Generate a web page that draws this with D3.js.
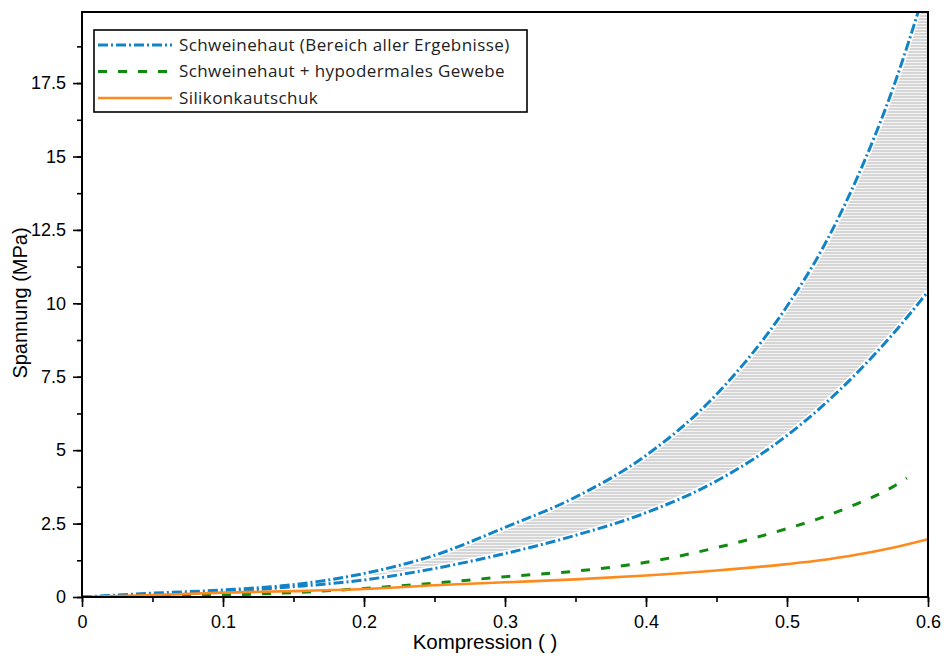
<!DOCTYPE html>
<html>
<head>
<meta charset="utf-8">
<script src="https://cdn.jsdelivr.net/npm/d3@7"></script>
<style>
  body { margin: 0; background: #fff; }
  .axis text { font-family: "Liberation Sans", Arial, sans-serif; font-size: 18px; fill: #000; }
  .axis path, .axis line { stroke: #000; stroke-width: 1.6px; }
  .legend text { font-family: "Open Sans", sans-serif; font-size: 17px; letter-spacing: 0.4px; fill: #222; }
</style>
</head>
<body>
<div id="chart-area"></div>
<script>

// Daten
var kompression = [0, 0.05, 0.1, 0.15, 0.2, 0.25, 0.3, 0.35, 0.4, 0.45, 0.5, 0.525, 0.55, 0.575, 0.6];
var hautMax = [0, 0.13, 0.24, 0.42, 0.8, 1.42, 2.37, 3.4, 4.82, 6.9, 9.9, 11.85, 14.3, 17.3, 21.0];
var hautMin = [0, 0.08, 0.18, 0.35, 0.58, 0.97, 1.48, 2.1, 2.87, 3.95, 5.5, 6.5, 7.65, 8.95, 10.4];

var kompressionGewebe = [0, 0.05, 0.1, 0.15, 0.2, 0.25, 0.3, 0.35, 0.4, 0.45, 0.5, 0.525, 0.55, 0.575, 0.585];
var hautGewebe = [0, 0.03, 0.07, 0.15, 0.29, 0.47, 0.69, 0.88, 1.18, 1.68, 2.33, 2.71, 3.18, 3.75, 4.05];

var silikon = [0, 0.07, 0.15, 0.2, 0.27, 0.4, 0.5, 0.6, 0.73, 0.9, 1.12, 1.26, 1.45, 1.68, 1.97];

var xTicks = [0, 0.1, 0.2, 0.3, 0.4, 0.5, 0.6];
var yTicks = [0, 2.5, 5, 7.5, 10, 12.5, 15, 17.5];

var legendLabels = ["Schweinehaut (Bereich aller Ergebnisse)", "Schweinehaut + hypodermales Gewebe", "Silikonkautschuk"];
var colors = ["#1283c6", "#118a11", "#ff8a1c"];
var dashes = ["10,3,2,3", "9,11", null];

var margin = {top: 12, right: 19, bottom: 59, left: 82},
    width = 947 - margin.left - margin.right,
    height = 656 - margin.top - margin.bottom;

var svg = d3.select("#chart-area").append("svg")
    .attr("width", 947)
    .attr("height", 656);

var defs = svg.append("defs");

// Schraffur fuer den Bereich
var pattern = defs.append("pattern")
    .attr("id", "hatch")
    .attr("patternUnits", "userSpaceOnUse")
    .attr("width", 6)
    .attr("height", 3);
pattern.append("rect").attr("width", 6).attr("height", 3).attr("fill", "#f4f4f4");
pattern.append("rect").attr("width", 6).attr("height", 2).attr("fill", "#d6d6d6");

defs.append("clipPath").attr("id", "clip")
  .append("rect")
    .attr("width", width)
    .attr("height", height);

var g = svg.append("g")
    .attr("transform", "translate(" + margin.left + "," + margin.top + ")");

var x = d3.scaleLinear()
    .domain([0, 0.6])
    .range([0, width]);

var y = d3.scaleLinear()
    .domain([0, 19.92])
    .range([height, 0]);

// Achsen
g.append("g")
    .attr("class", "axis")
    .attr("transform", "translate(0," + height + ")")
    .call(d3.axisBottom(x).tickValues(d3.range(0, 0.61, 0.05)).tickSize(5).tickFormat(""))
    .call(function(s) { s.select(".domain").remove(); });

g.append("g")
    .attr("class", "axis")
    .attr("transform", "translate(0," + height + ")")
    .call(d3.axisBottom(x).tickValues(xTicks).tickSize(10).tickPadding(8).tickFormat(d3.format("")))
    .call(function(s) { s.select(".domain").remove(); });

g.append("g")
    .attr("class", "axis")
    .call(d3.axisLeft(y).tickValues(d3.range(0, 19.9, 1.25)).tickSize(5).tickFormat(""))
    .call(function(s) { s.select(".domain").remove(); });

g.append("g")
    .attr("class", "axis")
    .call(d3.axisLeft(y).tickValues(yTicks).tickSize(9).tickPadding(7).tickFormat(d3.format("")))
    .call(function(s) { s.select(".domain").remove(); });

// Bereich
var area = d3.area()
    .x(function(d, i) { return x(kompression[i]); })
    .y0(function(d, i) { return y(hautMin[i]); })
    .y1(function(d, i) { return y(d); })
    .curve(d3.curveMonotoneX);

var plot = g.append("g").attr("clip-path", "url(#clip)");

plot.append("path")
    .datum(hautMax)
    .attr("fill", "url(#hatch)")
    .attr("d", area);

var line = d3.line()
    .x(function(d) { return x(d[0]); })
    .y(function(d) { return y(d[1]); })
    .curve(d3.curveMonotoneX);

var series = [
  {data: d3.zip(kompression, hautMax), c: 0},
  {data: d3.zip(kompression, hautMin), c: 0},
  {data: d3.zip(kompressionGewebe, hautGewebe), c: 1},
  {data: d3.zip(kompression, silikon), c: 2}
];

// weisser Rand um die blauen Linien
plot.selectAll(".halo")
    .data(series.slice(0, 2))
  .enter().append("path")
    .attr("class", "halo")
    .attr("fill", "none")
    .attr("stroke", "#fff")
    .attr("stroke-width", 6)
    .attr("d", function(d) { return line(d.data); });

plot.selectAll(".serie")
    .data(series)
  .enter().append("path")
    .attr("class", "serie")
    .attr("fill", "none")
    .attr("stroke", function(d) { return colors[d.c]; })
    .attr("stroke-width", function(d) { return d.c == 2 ? 2.6 : 3; })
    .attr("stroke-dasharray", function(d) { return dashes[d.c]; })
    .attr("d", function(d) { return line(d.data); });

// Rahmen
g.append("rect")
    .attr("width", width)
    .attr("height", height)
    .attr("fill", "none")
    .attr("stroke", "#000")
    .attr("stroke-width", 2);

// Achsentitel
svg.append("text")
    .attr("x", 485)
    .attr("y", 649)
    .attr("text-anchor", "middle")
    .style("font-family", "Liberation Sans, Arial, sans-serif")
    .style("font-size", "20.5px")
    .text("Kompression ( )");

svg.append("text")
    .attr("transform", "translate(27,303) rotate(-90)")
    .attr("text-anchor", "middle")
    .style("font-family", "Liberation Sans, Arial, sans-serif")
    .style("font-size", "20px")
    .text("Spannung (MPa)");

// Legende
var legend = svg.append("g")
    .attr("class", "legend")
    .attr("transform", "translate(94,30)");

legend.append("rect")
    .attr("width", 433)
    .attr("height", 82)
    .attr("fill", "#fff")
    .attr("stroke", "#000")
    .attr("stroke-width", 1.6);

var items = legend.selectAll(".item")
    .data(legendLabels)
  .enter().append("g")
    .attr("class", "item")
    .attr("transform", function(d, i) { return "translate(0," + (15 + i * 26.5) + ")"; });

items.append("line")
    .attr("x1", 4)
    .attr("x2", 78)
    .attr("stroke", function(d, i) { return colors[i]; })
    .attr("stroke-width", function(d, i) { return i == 2 ? 2.6 : 3; })
    .attr("stroke-dasharray", function(d, i) { return dashes[i]; });

items.append("text")
    .attr("x", 85)
    .attr("dy", "0.35em")
    .text(function(d) { return d; });

</script>
</body>
</html>
